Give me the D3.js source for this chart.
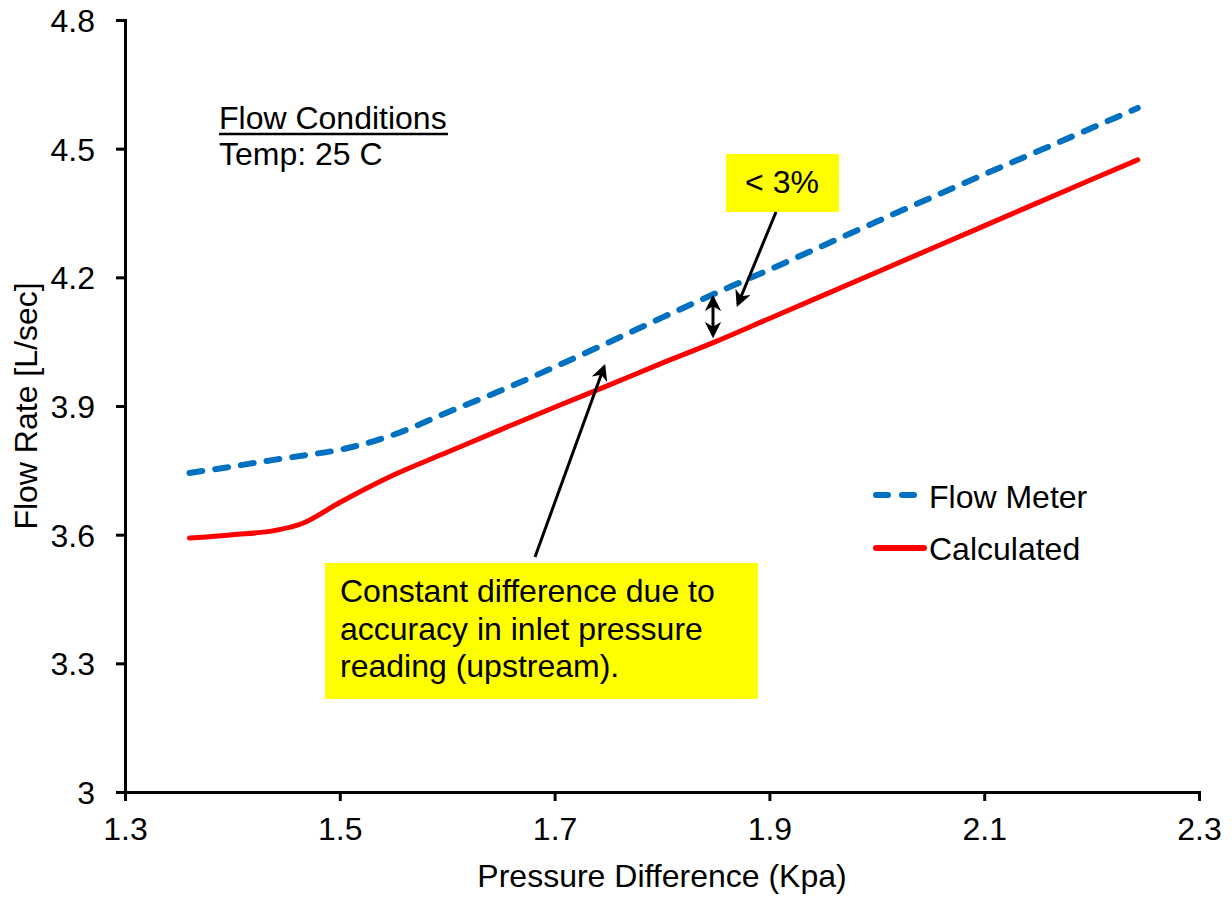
<!DOCTYPE html>
<html>
<head>
<meta charset="utf-8">
<script src="https://cdnjs.cloudflare.com/ajax/libs/d3/7.8.5/d3.min.js"></script>
<style>
  body { margin: 0; background: #fff; }
  text { font-family: "Liberation Sans", Arial, sans-serif; fill: #000; }
</style>
</head>
<body>
<div id="chart"></div>
<script>
// pressure difference (Kpa) / flow rate (L/sec)
var meterX = [1.36, 1.39, 1.44, 1.47, 1.50, 1.55, 1.60, 1.65, 1.70, 1.75, 1.80, 1.85, 1.90, 2.00, 2.10, 2.20, 2.243];
var meterY = [3.744, 3.755, 3.775, 3.786, 3.798, 3.833, 3.885, 3.936, 3.991, 4.048, 4.106, 4.163, 4.218, 4.330, 4.440, 4.548, 4.595];

var calcX = [1.36, 1.40, 1.44, 1.465, 1.50, 1.55, 1.60, 1.65, 1.70, 1.75, 1.80, 1.85, 1.90, 2.00, 2.10, 2.20, 2.243];
var calcY = [3.592, 3.600, 3.610, 3.626, 3.675, 3.739, 3.792, 3.845, 3.897, 3.948, 4.000, 4.050, 4.104, 4.212, 4.320, 4.428, 4.474];

var xTicks = [1.3, 1.5, 1.7, 1.9, 2.1, 2.3];
var yTicks = [3, 3.3, 3.6, 3.9, 4.2, 4.5, 4.8];

var W = 1232, H = 900;
var margin = {top: 20, right: 33, bottom: 108, left: 125};
var fs = "32px";

var svg = d3.select("#chart").append("svg")
    .attr("width", W).attr("height", H);

var x = d3.scaleLinear().domain([1.3, 2.3]).range([margin.left, W - margin.right]);
var y = d3.scaleLinear().domain([3, 4.8]).range([H - margin.bottom, margin.top]);

var xAxis = d3.axisBottom(x).tickValues(xTicks).tickSize(9).tickPadding(16)
    .tickFormat(function(d) { return d3.format(".1f")(d); });
var yAxis = d3.axisLeft(y).tickValues(yTicks).tickSize(9).tickPadding(21)
    .tickFormat(function(d) { return d === 3 ? "3" : d3.format(".1f")(d); });

var gx = svg.append("g")
    .attr("transform", "translate(0," + y(3) + ")")
    .call(xAxis);
var gy = svg.append("g")
    .attr("transform", "translate(" + x(1.3) + ",0)")
    .call(yAxis);

[gx, gy].forEach(function(g) {
  g.select(".domain").attr("stroke", "#000").attr("stroke-width", 3);
  g.selectAll(".tick line").attr("stroke", "#000").attr("stroke-width", 3);
  g.selectAll(".tick text")
    .style("font-family", "'Liberation Sans', Arial, sans-serif")
    .style("font-size", fs).attr("fill", "#000");
});
gy.selectAll(".tick text").attr("dy", "0.36em");
gx.selectAll(".tick text").attr("dy", "0.72em");

// axis titles
svg.append("text")
  .attr("x", x(1.8)).attr("y", 887)
  .attr("text-anchor", "middle")
  .style("font-size", fs)
  .text("Pressure Difference (Kpa)");

svg.append("text")
  .attr("transform", "translate(37," + y(3.9) + ") rotate(-90)")
  .attr("text-anchor", "middle")
  .style("font-size", fs)
  .text("Flow Rate [L/sec]");

var line = d3.line()
    .x(function(d) { return x(d[0]); })
    .y(function(d) { return y(d[1]); })
    .curve(d3.curveMonotoneX);

var meter = meterX.map(function(v, i) { return [v, meterY[i]]; });
var calc = calcX.map(function(v, i) { return [v, calcY[i]]; });

svg.append("path").datum(calc)
  .attr("d", line)
  .attr("fill", "none")
  .attr("stroke", "#ff0000")
  .attr("stroke-width", 5)
  .attr("stroke-linecap", "round");

svg.append("path").datum(meter)
  .attr("d", line)
  .attr("fill", "none")
  .attr("stroke", "#0070c0")
  .attr("stroke-width", 6)
  .attr("stroke-dasharray", "13,13")
  .attr("stroke-linecap", "round");

// legend
var leg = svg.append("g");
leg.append("line")
  .attr("x1", 876).attr("x2", 918).attr("y1", 495).attr("y2", 495)
  .attr("stroke", "#0070c0").attr("stroke-width", 6)
  .attr("stroke-dasharray", "12,14").attr("stroke-linecap", "round");
leg.append("text").attr("x", 929).attr("y", 508)
  .style("font-size", fs).text("Flow Meter");
leg.append("line")
  .attr("x1", 876).attr("x2", 924).attr("y1", 548).attr("y2", 548)
  .attr("stroke", "#ff0000").attr("stroke-width", 6).attr("stroke-linecap", "round");
leg.append("text").attr("x", 929).attr("y", 560)
  .style("font-size", fs).text("Calculated");

// flow conditions note
svg.append("text").attr("x", 219).attr("y", 129)
  .style("font-size", fs).text("Flow Conditions");
svg.append("line")
  .attr("x1", 219).attr("x2", 448).attr("y1", 134).attr("y2", 134)
  .attr("stroke", "#000").attr("stroke-width", 2.5);
svg.append("text").attr("x", 219).attr("y", 165)
  .style("font-size", fs).text("Temp: 25 C");

// arrow markers
var defs = svg.append("defs");
defs.append("marker")
  .attr("id", "head")
  .attr("viewBox", "0 0 10 10")
  .attr("refX", 8).attr("refY", 5)
  .attr("markerWidth", 5.5).attr("markerHeight", 5.5)
  .attr("markerUnits", "strokeWidth")
  .attr("orient", "auto-start-reverse")
  .append("path")
  .attr("d", "M0,0 L10,5 L0,10 L3,5 Z")
  .attr("fill", "#000");

// "< 3%" box
svg.append("rect").attr("x", 726).attr("y", 154).attr("width", 113).attr("height", 58)
  .attr("fill", "#ffff00");
svg.append("text").attr("x", 782).attr("y", 193)
  .attr("text-anchor", "middle")
  .style("font-size", fs).text("< 3%");
svg.append("line")
  .attr("x1", 776).attr("y1", 212).attr("x2", 738).attr("y2", 304)
  .attr("stroke", "#000").attr("stroke-width", 3)
  .attr("marker-end", "url(#head)");

// double arrow between curves
svg.append("line")
  .attr("x1", 713).attr("y1", 298).attr("x2", 713).attr("y2", 335)
  .attr("stroke", "#000").attr("stroke-width", 3)
  .attr("marker-start", "url(#head)")
  .attr("marker-end", "url(#head)");

// explanation box
svg.append("rect").attr("x", 325).attr("y", 563).attr("width", 433).attr("height", 136)
  .attr("fill", "#ffff00");
var lines = ["Constant difference due to", "accuracy in inlet pressure", "reading (upstream)."];
svg.append("g").selectAll("text").data(lines).enter().append("text")
  .attr("x", 340)
  .attr("y", function(d, i) { return 602 + i * 37.5; })
  .style("font-size", fs)
  .text(function(d) { return d; });
svg.append("line")
  .attr("x1", 535).attr("y1", 557).attr("x2", 604).attr("y2", 367)
  .attr("stroke", "#000").attr("stroke-width", 3)
  .attr("marker-end", "url(#head)");
</script>
</body>
</html>
